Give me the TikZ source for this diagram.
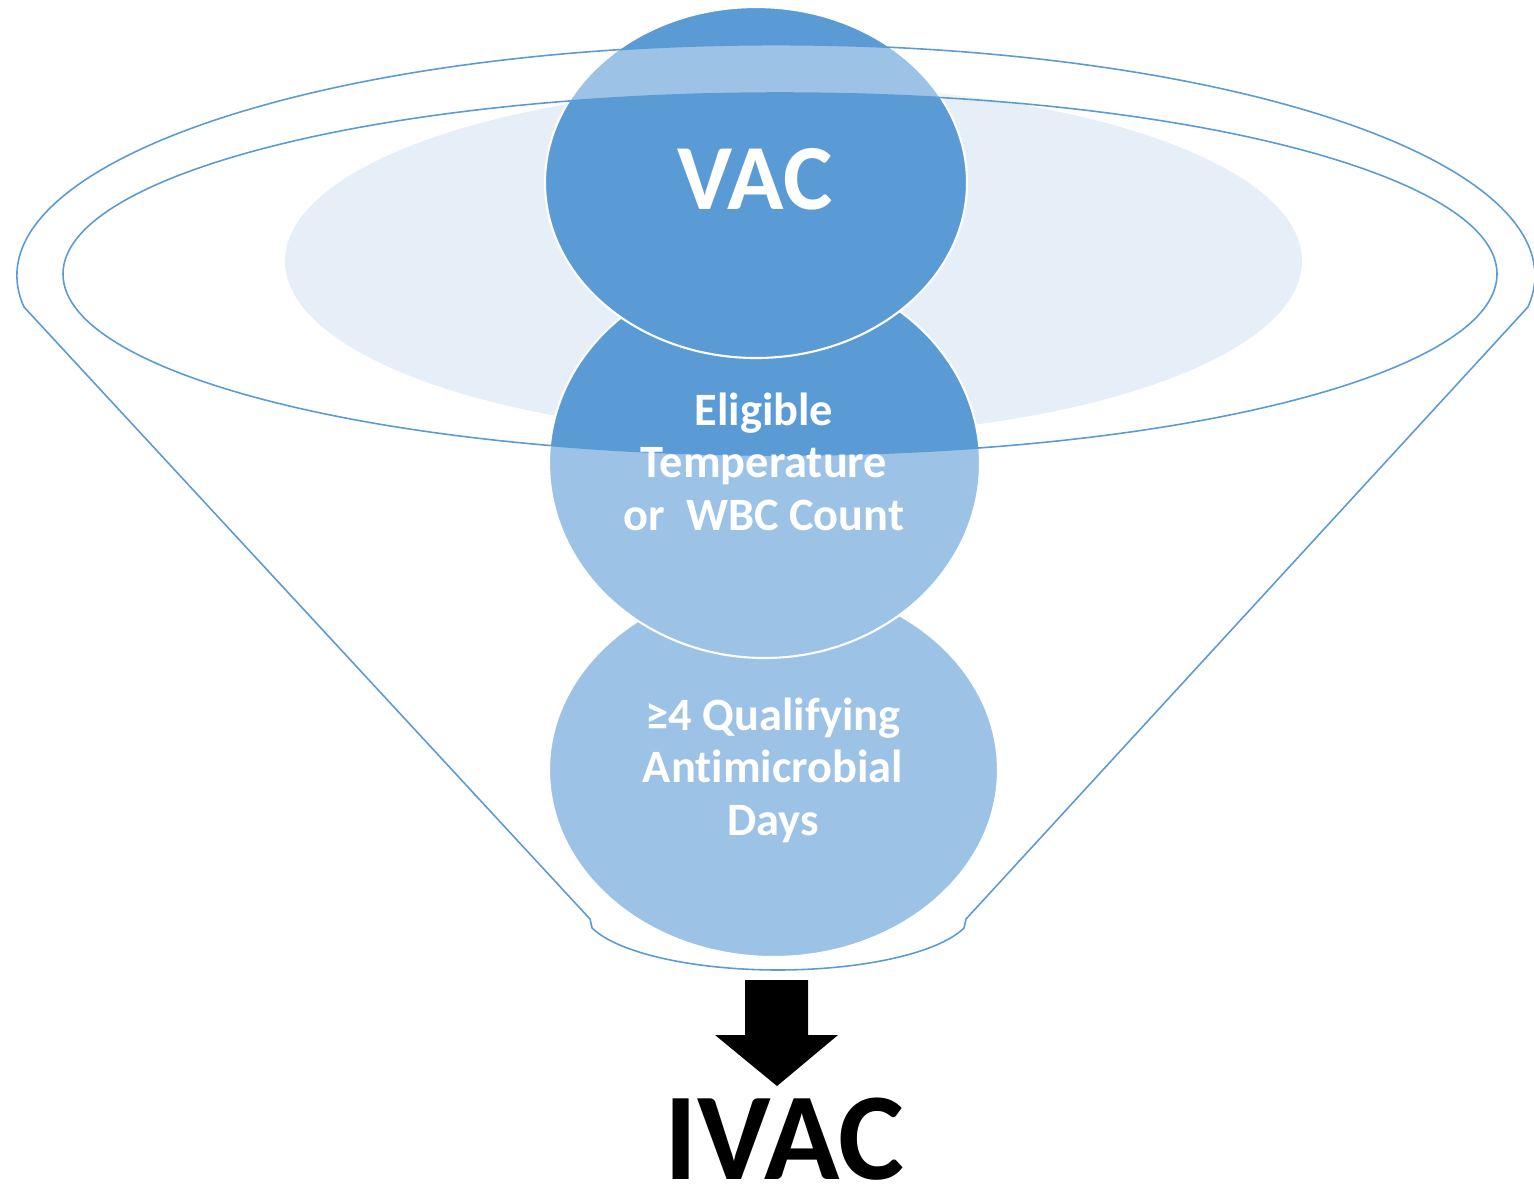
\documentclass[tikz,border=0pt]{standalone}
\usepackage{fontspec}
\setmainfont{Carlito}[Ligatures=NoCommon]
\usepackage{tikz}
\definecolor{funnelblue}{RGB}{91,155,213}
\definecolor{funnelpale}{RGB}{230,238,248}
\tikzset{
  rim/.style     ={draw=funnelblue, line width=0.45pt},
  ball/.style    ={fill=funnelblue, draw=white, line width=0.6pt},
  veil/.style    ={fill=white, fill opacity=0.4, even odd rule},
  balltxt/.style ={font=\bfseries\fontsize{13.2}{14.9}\selectfont, text=white, align=center, inner sep=0pt},
  bigtxt/.style  ={font=\bfseries\fontsize{26.5}{30}\selectfont, inner sep=0pt},
}

\begin{document}
\begin{tikzpicture}[scale=1]
  \useasboundingbox (0,0) rectangle (15.34,-11.83);
  % pale glow inside the mouth
  \fill[funnelpale] (7.935,-2.61) ellipse[x radius=5.085, y radius=1.75];
  % stages, lowest first so the upper ones overlap it
  \draw[ball] (7.735,-7.70) ellipse[x radius=2.245, y radius=1.87];
  \draw[ball] (7.645,-4.63) ellipse[x radius=2.155, y radius=1.95];
  \draw[ball] (7.56,-1.825) ellipse[x radius=2.11, y radius=1.755];
  % funnel body, mouth left open
  \fill[veil] (0.24,-3.07) arc[start angle=187.8, end angle=-7.8, x radius=7.59, y radius=2.31]
    -- (9.66,-9.19) -- (9.64,-9.28) arc[start angle=342.5, end angle=197.5, x radius=1.95, y radius=0.6]
    -- (5.90,-9.19) -- cycle
    (7.80,-2.74) ellipse[x radius=7.17, y radius=1.81];
  \draw[rim] (0.24,-3.07) arc[start angle=187.8, end angle=-7.8, x radius=7.59, y radius=2.31]
    -- (9.66,-9.19) -- (9.64,-9.28) arc[start angle=342.5, end angle=197.5, x radius=1.95, y radius=0.6]
    -- (5.90,-9.19) -- cycle;
  \draw[rim] (7.80,-2.74) ellipse[x radius=7.17, y radius=1.81];
  % labels (base = last line)
  \node[bigtxt, text=white, anchor=base] (vac) at (7.55,-2.09) {VAC};
  \node[balltxt, anchor=base] (fever) at (7.64,-5.30) {Eligible\\Temperature\\or\ \ WBC Count};
  \node[balltxt, anchor=base] (abx) at (7.73,-8.35) {≥4 Qualifying\\Antimicrobial\\Days};
  \node[bigtxt, font=\bfseries\fontsize{35.4}{40}\selectfont, anchor=base] (ivac) at (7.845,-11.79) {IVAC};
  % block arrow into the result
  \fill[black] (7.45,-9.80) -- (8.08,-9.80) -- (8.08,-10.35) -- (8.38,-10.35) -- (7.77,-10.86)
    -- (7.15,-10.35) -- (7.45,-10.35) -- cycle;
\end{tikzpicture}
\end{document}
